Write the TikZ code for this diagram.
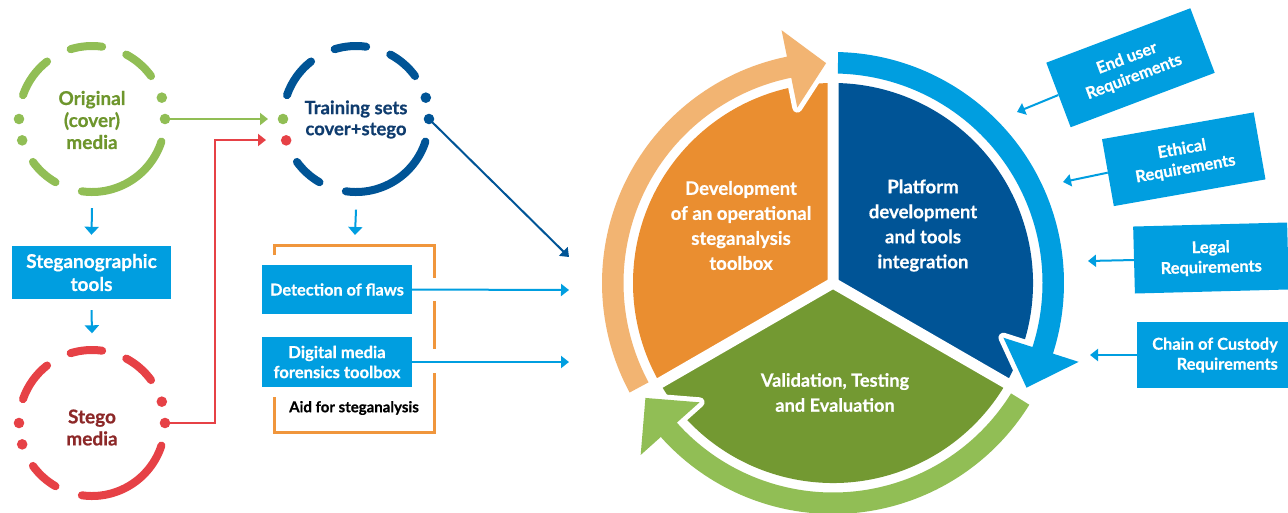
\documentclass[tikz,border=0pt]{standalone}
\usepackage{fontspec}
\setmainfont{Lato}[BoldFeatures={FakeBold=0.6}]
\usetikzlibrary{arrows.meta,calc}
\definecolor{cyanb}{RGB}{0,158,224}
\definecolor{darkb}{RGB}{0,84,150}
\definecolor{orangeS}{RGB}{234,142,48}
\definecolor{orangeL}{RGB}{242,180,114}
\definecolor{greenS}{RGB}{115,153,50}
\definecolor{greenL}{RGB}{145,190,85}
\definecolor{redC}{RGB}{230,65,70}
\definecolor{redT}{RGB}{140,40,40}
\definecolor{greenT}{RGB}{110,150,45}
\definecolor{blueT}{RGB}{15,60,110}
\definecolor{bracketO}{RGB}{240,150,60}

\newcommand{\dashring}[4]{%
 \begin{scope}[shift={(#1)}]
  \draw[#2, line width=8pt, line cap=round]
    (36:73) arc[start angle=36,end angle=62,radius=73]
    (82:73) arc[start angle=82,end angle=107,radius=73]
    (128:73) arc[start angle=128,end angle=161,radius=73]
    (216:73) arc[start angle=216,end angle=240,radius=73]
    (262:73) arc[start angle=262,end angle=342,radius=73];
  \fill[#2] (0:73) circle[radius=5.3] (17:73) circle[radius=5.3];
  \fill[#3] (180:73) circle[radius=5.3];
  \fill[#4] (197:73) circle[radius=5.3];
 \end{scope}}

\newcommand{\ringarrow}[4]{%
 \fill[#1, preaction={draw=white, line width=10pt, line join=round}]
  (#2:231) arc[start angle=#2, end angle=#3, radius=231] -- (#3:258) -- (#4:220)
  -- (#3:179) -- (#3:209.5) arc[start angle=#3, end angle=#2, radius=209.5] -- cycle;}

\begin{document}
\begin{tikzpicture}[x=1pt,y=1pt,
  arrowtip/.style={-{Triangle[width=12pt,length=8pt]}},
  cbox/.style={fill=cyanb, text=white, inner sep=0pt, align=center,
     font=\bfseries\fontsize{16.3}{21}\selectfont},
  rbox/.style={fill=cyanb, text=white, inner sep=0pt, align=center,
     minimum width=154pt, minimum height=68pt,
     font=\bfseries\fontsize{16.4}{20}\selectfont},
  ctext/.style={circle, minimum size=146pt, inner sep=0pt, align=center,
     font=\bfseries\fontsize{19}{22}\selectfont},
  ptext/.style={text=white, align=center, font=\bfseries\fontsize{18.6}{25}\selectfont},
  cline/.style={cyanb, line width=2pt, arrowtip},
  bracket/.style={bracketO, line width=3pt}
]
\useasboundingbox (0,0) rectangle (1288,-512);

% ---------- left circles ----------
\node[ctext, text=greenT] (orig) at (92,-120) {Original\\(cover)\\media};
\dashring{92,-119}{greenL}{greenL}{greenL}
\node[ctext, text=redT] (stego) at (92,-427.5) {Stego\\media};
\dashring{92,-423}{redC}{redC}{redC}
\node[ctext, text=blueT, font=\bfseries\fontsize{18.5}{21}\selectfont] (train) at (356,-119.5) {Training sets\\cover+stego};
\dashring{356,-119}{darkb}{greenL}{redC}

\node[cbox, minimum width=159pt, minimum height=53pt, font=\bfseries\fontsize{19}{23}\selectfont] (tools) at (91.5,-272.5) {Steganographic\\tools};

\draw[cyanb, line width=2pt, -{Triangle[width=14pt,length=8pt]}] ($(orig.south)+(0,-15)$) -- ($(tools.north)+(0,11)$);
\draw[cyanb, line width=2pt, -{Triangle[width=14pt,length=8pt]}] ($(tools.south)+(0,-11)$) -- ($(stego.north)+(0,21)$);

\coordinate (origR) at (165,-119);
\coordinate (trainGin) at (268,-119);
\coordinate (stegoR) at (165,-423);
\coordinate (trainRin) at (266,-140);
\coordinate (trainR) at (429,-119);
\draw[greenL, line width=2.5pt, arrowtip] (origR) -- (trainGin);
\draw[redC, line width=2.5pt, arrowtip] (stegoR) -- ++(50,0) |- (trainRin);

% ---------- middle column ----------
\node[cbox, minimum width=150pt, minimum height=49pt] (detect) at (337,-289.5) {Detection of flaws};
\node[cbox, minimum width=150pt, minimum height=50pt, font=\bfseries\fontsize{16.6}{20}\selectfont] (forens) at (337,-362) {Digital media\\forensics toolbox};
\node[font=\bfseries\fontsize{15}{16}\selectfont] (aid) at (354,-408) {Aid for steganalysis};

\draw[bracket] (274,-255) -- (274,-245) -- (434,-245) -- (434,-278);
\draw[bracket] (434,-301) -- (434,-349);
\draw[bracket] (434,-373) -- (434,-432) -- (274,-432) -- (274,-397);

\coordinate (aidIn) at (355,-235);
\draw[cyanb, line width=2pt, -{Triangle[width=14pt,length=8pt]}] ($(train.south)+(0,-17)$) -- (aidIn);

\coordinate (pieIn0) at (569,-257);
\coordinate (pieIn1) at (569,-290);
\coordinate (pieIn2) at (569,-362);
\draw[darkb, line width=2pt, arrowtip] (trainR) -- (pieIn0);
\draw[cline] (detect.east) -- (pieIn1);
\draw[cline] (forens.east) -- (pieIn2);

% ---------- pie ----------
\begin{scope}[shift={(833,-283)}]
  \fill[orangeS] (0,0) -- (90:200) arc[start angle=90,end angle=210,radius=200] -- cycle;
  \fill[darkb] (0,0) -- (-30:200) arc[start angle=-30,end angle=90,radius=200] -- cycle;
  \fill[greenS] (0,0) -- (210:200) arc[start angle=210,end angle=330,radius=200] -- cycle;
  \draw[white, line width=11pt] (0,0) -- (90:206) (0,0) -- (210:206) (0,0) -- (330:206);
  \ringarrow{orangeL}{208.3}{101.5}{91.8}
  \ringarrow{greenL}{-31.8}{-138.2}{-148.5}
  \ringarrow{cyanb}{88.7}{-17.8}{-28.4}
\end{scope}
\node[ptext] (dev) at (741,-225.5) {Development\\of an operational\\steganalysis\\toolbox};
\node[ptext] (plat) at (923,-225.5) {Platform\\development\\and tools\\integration};
\node[ptext, font=\bfseries\fontsize{18.2}{25}\selectfont] (valid) at (835,-392.5) {Validation, Testing\\and Evaluation};

% ---------- requirements ----------
\node[rbox, rotate=20.7, minimum height=69pt] (enduser) at (1130.5,-67.75) {End user\\Requirements};
\node[rbox, rotate=10] (ethic) at (1183.75,-159.25) {Ethical\\Requirements};
\node[rbox, rotate=1.5, minimum height=67pt] (legal) at (1211,-258) {Legal\\Requirements};
\node[rbox, minimum width=156pt, minimum height=66pt, align=right] (chain) at (1215,-355) {Chain of Custody\\Requirements};

\coordinate (euT) at (1017,-112);
\coordinate (etT) at (1063,-182);
\coordinate (leT) at (1088,-261);
\coordinate (chT) at (1090,-355);
\draw[cline] (enduser.west) -- (euT);
\draw[cline] (ethic.west) -- (etT);
\draw[cline] (legal.west) -- (leT);
\draw[cline] (chain.west) -- (chT);
\end{tikzpicture}
\end{document}
